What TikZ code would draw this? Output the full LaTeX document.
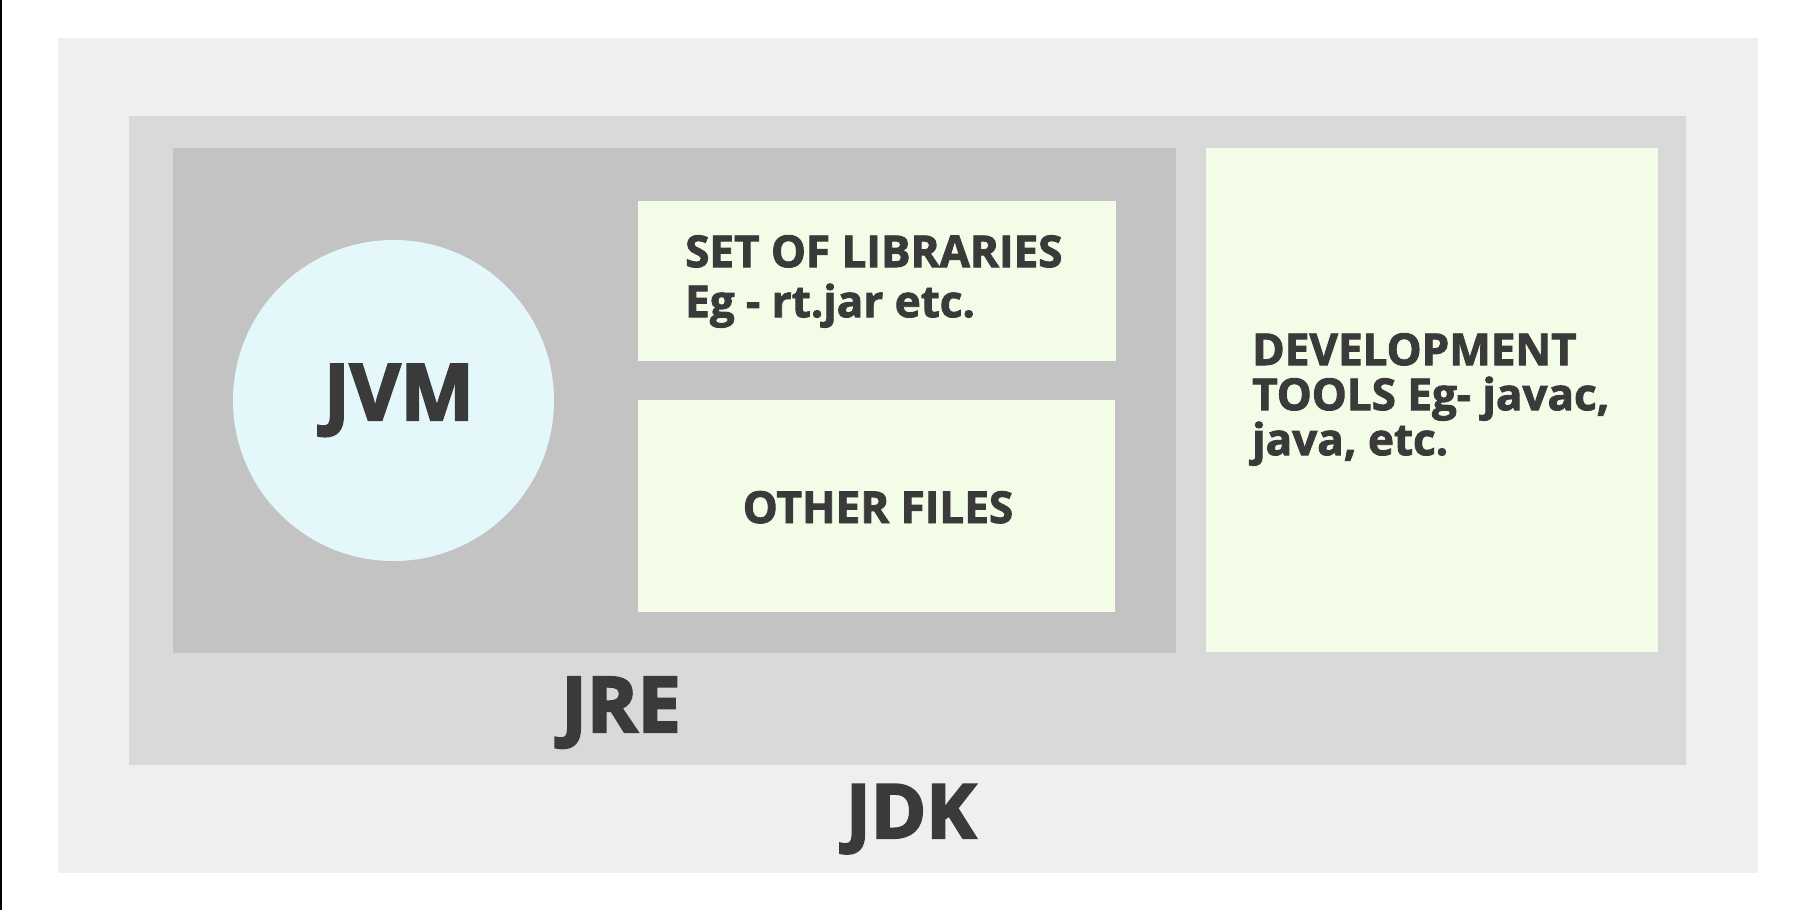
\documentclass[tikz,border=0pt]{standalone}
\usepackage{fontspec}
\newfontfamily\heavy{Open Sans}[UprightFont=* Bold, FakeBold=2]
\newfontfamily\heavier{Open Sans}[UprightFont=* Bold, FakeBold=3]
\usepackage{xcolor}
\usetikzlibrary{positioning}
\definecolor{jdkgray}{HTML}{EFEFEF}
\definecolor{jregray}{HTML}{D9D9D9}
\definecolor{coregray}{HTML}{C3C3C3}
\definecolor{toolgreen}{HTML}{F2FCE6}
\definecolor{jvmblue}{HTML}{E4F8FC}
\definecolor{inkgray}{HTML}{3A3A3A}

\begin{document}
\begin{tikzpicture}[
    x=1pt, y=-1pt,
    panel/.style={rectangle, inner sep=0pt, outer sep=0pt, anchor=north west},
    tag/.style={text=inkgray, inner sep=0pt, anchor=base, font=\heavier\fontsize{#1}{#1}\selectfont},
    para/.style 2 args={text=inkgray, inner sep=0pt, anchor=north west, align=left,
                 font=\heavy\fontsize{#1}{#2}\selectfont}
]
\useasboundingbox[fill=white] (0,0) rectangle (1810,910);
\fill[black] (0,0) rectangle (2,910);

\node[panel, fill=jdkgray, minimum width=1700pt, minimum height=835pt] (jdk) at (58,38) {};
\node[panel, fill=jregray, minimum width=1557pt, minimum height=649pt] (jre) at (129,116) {};
\node[panel, fill=coregray, minimum width=1003pt, minimum height=505pt] (core) at (173,148) {};
\node[panel, fill=toolgreen, minimum width=452pt, minimum height=504pt] (tools) at (1206,148) {};
\node[panel, fill=toolgreen, minimum width=478pt, minimum height=160pt] (libs) at (638,201) {};
\node[panel, fill=toolgreen, minimum width=477pt, minimum height=212pt] (files) at (638,400) {};
\node[circle, fill=jvmblue, minimum size=321pt, inner sep=0pt] (jvm) at (393.5,400.5) {};

\node[tag=78] (jvmtext) at (399,420) {JVM};
\node[tag=77] (jretext) at (621,732) {JRE};
\node[tag=75] (jdktext) at (911,838) {JDK};
\node[para={44}{44}, anchor=base] (filestext) at (878,523) {OTHER FILES};
\node[para={44}{50}] (libstext) at (685,235) {SET OF LIBRARIES\\Eg - rt.jar etc.};
\node[para={44}{45}] (toolstext) at (1252,333) {DEVELOPMENT\\TOOLS Eg- javac,\\java, etc.};
\end{tikzpicture}
\end{document}
